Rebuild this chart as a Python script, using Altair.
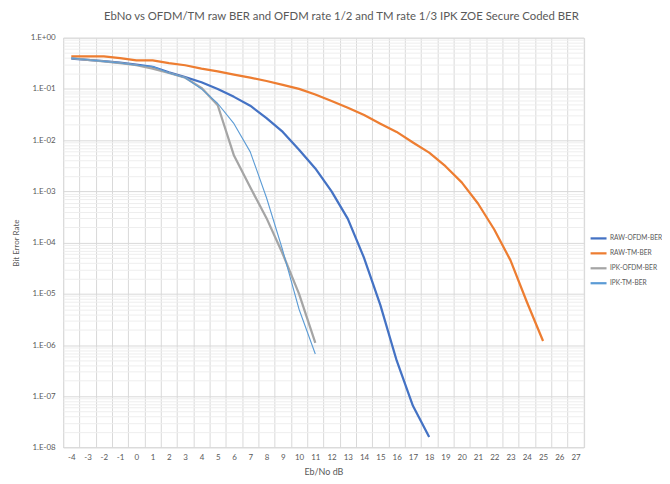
import altair as alt
import pandas as pd

# ---- data ----
series_names = ["RAW-OFDM-BER", "RAW-TM-BER", "IPK-OFDM-BER", "IPK-TM-BER"]
series_colors = ["#4472C4", "#ED7D31", "#A5A5A5", "#5B9BD5"]

x_categories = list(range(-4, 28))  # -4 .. 27

x_raw_ofdm = list(range(-4, 19))
raw_ofdm = [0.39, 0.37, 0.35, 0.325, 0.30, 0.27, 0.21, 0.17, 0.135, 0.10,
            0.07, 0.047, 0.027, 0.0145, 0.0065, 0.0028, 0.001, 2.9e-4,
            5e-5, 6e-6, 5e-7, 6.5e-8, 1.6e-8]

x_raw_tm = list(range(-4, 26))
raw_tm = [0.43, 0.43, 0.43, 0.40, 0.36, 0.36, 0.32, 0.29, 0.25, 0.22,
          0.19, 0.166, 0.143, 0.12, 0.10, 0.078, 0.058, 0.043, 0.031, 0.021,
          0.0145, 0.009, 0.0057, 0.0031, 0.0015, 5.8e-4, 1.8e-4, 4.5e-5,
          7e-6, 1.2e-6]

x_ipk = list(range(-4, 12))
ipk_ofdm = [0.40, 0.37, 0.345, 0.32, 0.29, 0.25, 0.205, 0.165, 0.105,
            0.048, 0.005, 0.0012, 3e-4, 6e-5, 1e-5, 1.1e-6]
ipk_tm = [0.40, 0.37, 0.345, 0.32, 0.29, 0.275, 0.205, 0.165, 0.10,
          0.052, 0.021, 0.0059, 7.5e-4, 7e-5, 5e-6, 6.7e-7]

# ---- build table ----
rows = []
for name, xs, ys in [
    (series_names[0], x_raw_ofdm, raw_ofdm),
    (series_names[1], x_raw_tm, raw_tm),
    (series_names[2], x_ipk, ipk_ofdm),
    (series_names[3], x_ipk, ipk_tm),
]:
    for xv, yv in zip(xs, ys):
        rows.append({"x": xv, "ber": yv, "series": name})
df = pd.DataFrame(rows)

W = 522.6
H = 411.4
n_cat = len(x_categories)
half_cat_px = W / n_cat / 2

x_grid_vals = [c - 0.5 for c in x_categories] + [x_categories[-1] + 0.5]
y_grid_vals = []
for d in range(0, 8):
    for m in range(1, 10):
        y_grid_vals.append(m * 10.0 ** -(d + 1))
y_grid_vals = sorted(set([round(v, 12) for v in y_grid_vals] + [1.0]))

FONT = "Lato"
TXT = "#595959"

is_decade = "abs(log(datum.value)/LN10 - round(log(datum.value)/LN10)) < 0.001"

x_enc = alt.X(
    "x:Q",
    scale=alt.Scale(domain=[x_categories[0] - 0.5, x_categories[-1] + 0.5], nice=False, zero=False),
    axis=alt.Axis(
        values=x_grid_vals,
        labelExpr=f"datum.value > {x_categories[-1]} ? '' : '' + (datum.value + 0.5)",
        labelOffset=half_cat_px,
        labelFlush=False,
        labelOverlap=False,
        labelPadding=6,
        labelFontSize=8,
        labelColor=TXT,
        labelFont=FONT,
        ticks=False,
        domain=False,
        grid=True,
        gridColor="#D9D9D9",
        gridWidth=1,
        title="Eb/No dB",
        titleFont=FONT,
        titleFontSize=9,
        titleFontWeight="normal",
        titleColor=TXT,
        titleX=W / 2,
        titleY=24,
        titleBaseline="middle",
    ),
)

y_enc = alt.Y(
    "ber:Q",
    scale=alt.Scale(type="log", domain=[1e-8, 1], nice=False),
    axis=alt.Axis(
        values=y_grid_vals,
        labelExpr=is_decade + " ? ('1.E' + (datum.value >= 1 ? '+00' : '-0' + round(-log(datum.value)/LN10))) : ''",
        labelFontSize=8,
        labelColor=TXT,
        labelFont=FONT,
        labelPadding=8,
        labelOverlap=False,
        labelFlush=False,
        ticks=False,
        domain=False,
        grid=True,
        gridColor={"condition": {"test": is_decade, "value": "#D9D9D9"}, "value": "#EEEEEE"},
        gridWidth=1,
        title="Bit Error Rate",
        titleFont=FONT,
        titleFontSize=8,
        titleFontWeight="normal",
        titleColor=TXT,
        titleX=-47,
        titleY=H / 2,
        titleAngle=270,
        titleBaseline="middle",
    ),
)

chart = (
    alt.Chart(df)
    .mark_line(strokeJoin="round")
    .encode(
        x=x_enc,
        y=y_enc,
        color=alt.Color(
            "series:N",
            scale=alt.Scale(domain=series_names, range=series_colors),
            legend=alt.Legend(
                title=None,
                orient="none",
                legendX=528,
                legendY=192,
                symbolType="stroke",
                symbolSize=256,
                symbolStrokeWidth=2.25,
                labelFont=FONT,
                labelFontSize=6.6,
                labelColor=TXT,
                labelOffset=2,
                labelLimit=70,
                rowPadding=1,
                padding=0,
            ),
        ),
        strokeWidth=alt.condition(
            "datum.series == 'IPK-TM-BER'", alt.value(1.1), alt.value(2.25)
        ),
        detail="series:N",
    )
    .properties(
        width=W,
        height=H,
        title=alt.TitleParams(
            text="EbNo vs OFDM/TM raw BER and OFDM rate 1/2 and TM rate 1/3 IPK ZOE Secure Coded BER",
            font=FONT,
            fontSize=11.4,
            fontWeight="normal",
            color=TXT,
            anchor="middle",
            dx=18,
            offset=11,
        ),
        autosize=alt.AutoSizeParams(type="none"),
        padding={"left": 55.4, "top": 28.9, "right": 78.6, "bottom": 28},
    )
    .configure_view(stroke=None)
    .configure(background="white")
)

chart.save("out.html", embed_options={"renderer": "svg", "actions": False})
